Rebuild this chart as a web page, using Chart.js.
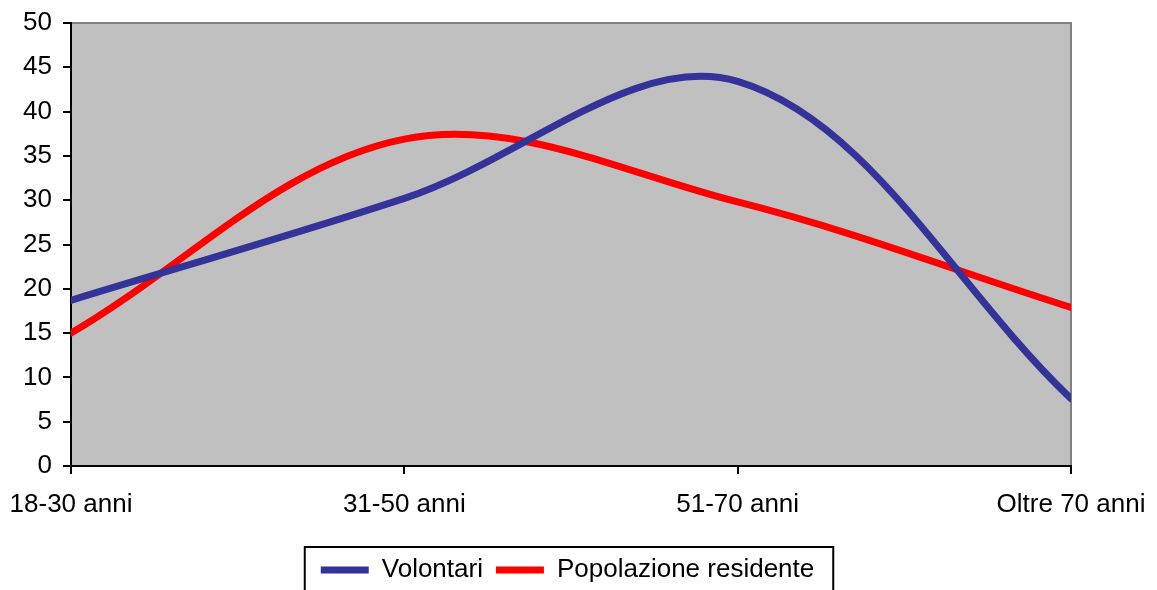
<!DOCTYPE html>
<html>
<head>
<meta charset="utf-8">
<script src="https://cdn.jsdelivr.net/npm/chart.js@4/dist/chart.umd.min.js"></script>
<style>
  html, body { margin: 0; padding: 0; background: #ffffff; }
  #wrap { width: 1157px; height: 590px; }
</style>
</head>
<body>
<div id="wrap"><canvas id="c" width="1157" height="590"></canvas></div>
<script>
// Age groups and the share (%) of each group
const categories = ['18-30 anni', '31-50 anni', '51-70 anni', 'Oltre 70 anni'];
const volontari = [18.7, 30.2, 43.4, 7.6];
const popolazione = [15.0, 36.9, 29.8, 17.9];
const yTicks = [0, 5, 10, 15, 20, 25, 30, 35, 40, 45, 50];

const FONT = { family: '"Liberation Sans", Arial, sans-serif', size: 26 };
const PLOT_BOTTOM = 466;
const PAD_BOTTOM = -3;
const LEGEND_SHIFT = 32;

// Grey plot background with the darker frame on top and right
const plotBackground = {
  id: 'plotBackground',
  beforeDraw(chart) {
    const { ctx, chartArea: a } = chart;
    ctx.save();
    ctx.fillStyle = '#c0c0c0';
    ctx.fillRect(a.left, a.top, a.right - a.left, a.bottom - a.top);
    ctx.strokeStyle = '#808080';
    ctx.lineWidth = 2;
    ctx.beginPath();
    ctx.moveTo(a.left, a.top);
    ctx.lineTo(a.right, a.top);
    ctx.lineTo(a.right, a.bottom);
    ctx.stroke();
    ctx.restore();
  }
};

// Legend sits centred under the plot rather than under the whole canvas
const legendOffset = {
  id: 'legendOffset',
  afterLayout(chart) {
    const lg = chart.legend;
    if (!lg) return;
    lg.left += LEGEND_SHIFT;
    lg.right += LEGEND_SHIFT;
  }
};

// Black frame round the legend entries
const legendFrame = {
  id: 'legendFrame',
  afterDraw(chart) {
    const boxes = chart.legend && chart.legend.legendHitBoxes;
    if (!boxes || !boxes.length) return;
    const left = Math.min(...boxes.map(b => b.left)) - 16;
    const right = Math.max(...boxes.map(b => b.left + b.width)) + 19;
    const top = Math.min(...boxes.map(b => b.top)) - 10;
    const ctx = chart.ctx;
    ctx.save();
    ctx.strokeStyle = '#000000';
    ctx.lineWidth = 2;
    ctx.strokeRect(left, top, right - left, chart.height + 20 - top);
    ctx.restore();
  }
};

new Chart(document.getElementById('c'), {
  type: 'line',
  data: {
    labels: categories,
    datasets: [
      {
        label: 'Volontari',
        data: volontari,
        borderColor: '#333399',
        backgroundColor: '#333399',
        borderWidth: 7,
        borderCapStyle: 'round',
        pointRadius: 0,
        tension: 0.35,
        clip: 0
      },
      {
        label: 'Popolazione residente',
        data: popolazione,
        borderColor: '#ff0000',
        backgroundColor: '#ff0000',
        borderWidth: 7,
        borderCapStyle: 'round',
        pointRadius: 0,
        tension: 0.35,
        clip: 0
      }
    ]
  },
  options: {
    responsive: false,
    animation: false,
    events: [],
    layout: { padding: { left: 0, right: 86, top: 23, bottom: PAD_BOTTOM } },
    plugins: {
      tooltip: { enabled: false },
      legend: {
        position: 'bottom',
        labels: {
          color: '#000000',
          font: FONT,
          usePointStyle: true,
          pointStyle: 'line',
          pointStyleWidth: 48,
          boxHeight: 26,
          padding: 13
        }
      }
    },
    scales: {
      x: {
        offset: false,
        border: { display: true, color: '#000000', width: 2 },
        grid: { drawOnChartArea: false, color: '#000000', lineWidth: 2, tickLength: 8 },
        ticks: { color: '#000000', font: FONT, maxRotation: 0, autoSkip: false, padding: 15 },
        afterFit(scale) {
          const lg = scale.chart.legend;
          const lh = lg ? lg.height : 0;
          scale.height = scale.chart.height - PAD_BOTTOM - lh - PLOT_BOTTOM;
          scale.paddingLeft = 0;
          scale.paddingRight = 0;
        }
      },
      y: {
        min: 0,
        max: 50,
        afterBuildTicks(scale) { scale.ticks = yTicks.map(v => ({ value: v })); },
        border: { display: true, color: '#000000', width: 2 },
        grid: { drawOnChartArea: false, color: '#000000', lineWidth: 2, tickLength: 8 },
        ticks: { color: '#000000', font: FONT, padding: 11 },
        afterFit(scale) {
          scale.width = 71;
          scale.paddingTop = 0;
        }
      }
    }
  },
  plugins: [plotBackground, legendOffset, legendFrame]
});
</script>
</body>
</html>
